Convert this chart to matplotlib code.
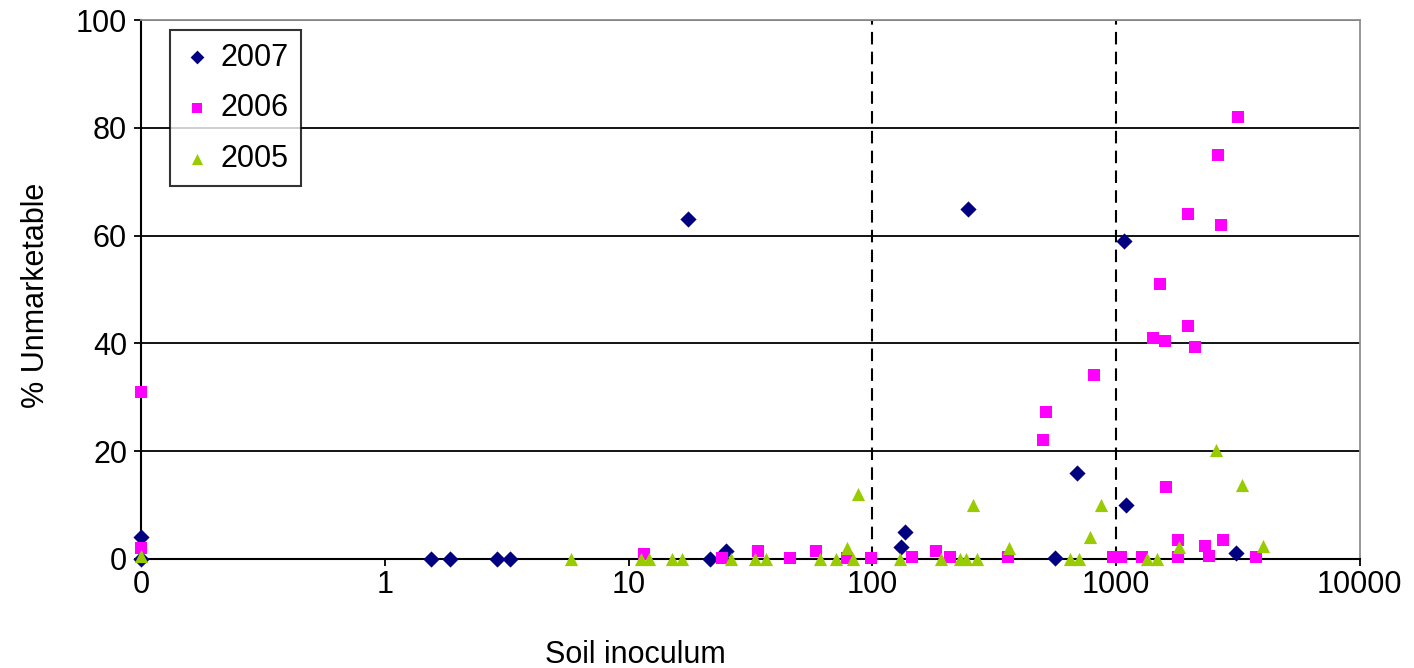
"""
% unmarketable vs soil inoculum, three seasons, log x axis.
Zero inoculum is drawn at the axis minimum (0.1, labelled "0").
"""
import matplotlib
matplotlib.use("Agg")
import matplotlib.pyplot as plt
import numpy as np

plt.rcParams["font.family"] = ["Liberation Sans", "DejaVu Sans"]

XMIN, XMAX = 0.1, 10000
X_TICKS = [0.1, 1, 10, 100, 1000, 10000]
X_TICK_LABELS = ["0", "1", "10", "100", "1000", "10000"]
Y_TICKS = [0, 20, 40, 60, 80, 100]
CUTOFFS = [100, 1000]

x_2007 = [0, 0, 1.55, 1.86, 2.9, 3.25, 17.5, 21.6, 25.2, 131, 136, 247, 560, 690, 1075, 1100, 3100]
y_2007 = [4, 0, 0, 0, 0, 0, 63, 0, 1.5, 2.2, 5, 65, 0.2, 16, 59, 10, 1.2]

x_2006 = [0, 0, 11.6, 24.2, 34, 46, 59, 79, 99, 145, 182, 208, 360, 500, 515, 815,
          975, 1050, 1280, 1420, 1520, 1590, 1600, 1790, 1790, 1965, 1965, 2113,
          2320, 2400, 2610, 2690, 2750, 3150, 3750]
y_2006 = [31, 2, 0.9, 0.2, 1.4, 0.2, 1.5, 0.2, 0.2, 0.3, 1.5, 0.3, 0.3, 22, 27.3, 34.2,
          0.3, 0.3, 0.3, 41, 51, 40.5, 13.3, 3.6, 0.4, 64, 43.3, 39.3,
          2.5, 0.5, 75, 62, 3.5, 82, 0.4]

x_2005 = [0, 5.8, 11.2, 12.1, 15.1, 16.6, 26.3, 33, 36.7, 61, 71, 79, 83, 87, 130,
          192, 230, 242, 260, 268, 365, 645, 705, 780, 870, 1340, 1470, 1810,
          2570, 3270, 4000]
y_2005 = [0.5, 0, 0, 0, 0, 0, 0, 0, 0, 0, 0, 2.1, 0, 12, 0,
          0, 0, 0, 10, 0, 2.1, 0, 0, 4, 10, 0, 0, 2.3,
          20.2, 13.8, 2.5]

SERIES = [
    ("2007", x_2007, y_2007, "D", "#000080", 68),
    ("2006", x_2006, y_2006, "s", "#FF00FF", 85),
    ("2005", x_2005, y_2005, "^", "#99CC00", 90),
]
FS = 22


def on_axis(x):
    # log axis cannot show 0 -> put it on the left edge like the original
    x = np.asarray(x, dtype=float)
    return np.where(x > 0, x, XMIN)


fig = plt.figure(figsize=(14.14, 6.68), dpi=100)
ax = fig.add_axes([0.0997, 0.1632, 0.862, 0.8068])

ax.set_xscale("log")
ax.set_xlim(XMIN, XMAX)
ax.set_ylim(0, 100)

for label, xs, ys, marker, color, size in SERIES:
    ax.scatter(on_axis(xs), ys, marker=marker, s=size, color=color, linewidths=0,
               label=label, zorder=3, clip_on=False)

for c in CUTOFFS:
    ax.axvline(c, color="black", lw=1.5, ls=(0, (6, 3.5)), zorder=2)

ax.set_xticks(X_TICKS)
ax.set_xticklabels(X_TICK_LABELS)
ax.xaxis.set_minor_locator(matplotlib.ticker.NullLocator())
ax.set_yticks(Y_TICKS)
ax.tick_params(axis="both", labelsize=FS, direction="out", length=5, width=1.3, colors="black")
ax.tick_params(axis="x", pad=3)
ax.tick_params(axis="y", pad=5)

ax.yaxis.grid(True, color="black", lw=1.3, zorder=1)
ax.set_axisbelow(True)
for side in ("left", "bottom"):
    ax.spines[side].set_color("black")
    ax.spines[side].set_linewidth(1.5)
for side in ("top", "right"):
    ax.spines[side].set_color("#909090")
    ax.spines[side].set_linewidth(1.3)

ax.set_xlabel("Soil inoculum", fontsize=FS)
ax.xaxis.set_label_coords(0.406, -0.150)
ax.set_ylabel("% Unmarketable", fontsize=FS)
ax.yaxis.set_label_coords(-0.074, 0.49)

leg = ax.legend(loc="upper left", bbox_to_anchor=(0.0238, 0.981), borderaxespad=0,
                fontsize=FS, frameon=True, fancybox=False, labelspacing=0.68,
                handletextpad=0.25, borderpad=0.4, handlelength=1.0,
                scatterpoints=1, markerscale=0.85)
leg.get_frame().set_edgecolor("black")
leg.get_frame().set_linewidth(1.5)

fig.savefig("out.png", dpi=100)
